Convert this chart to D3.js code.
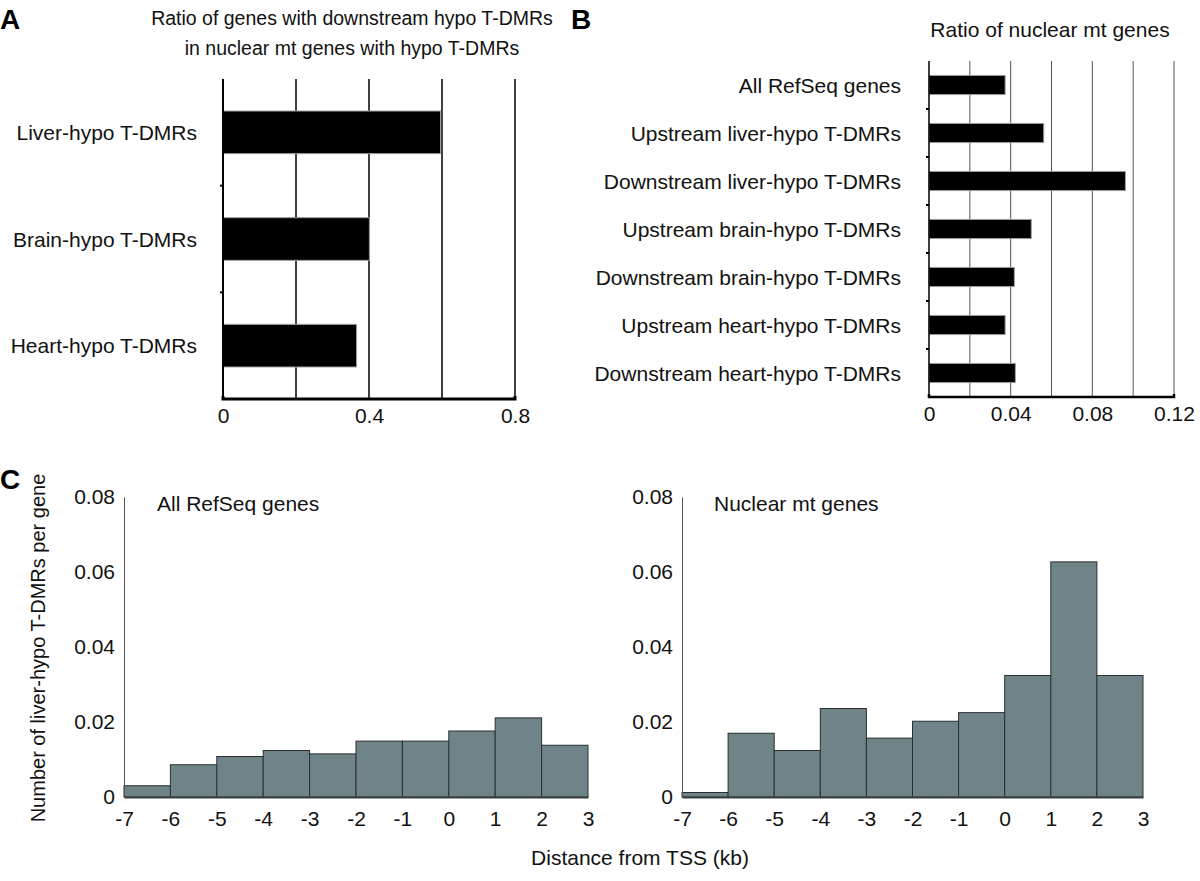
<!DOCTYPE html>
<html>
<head>
<meta charset="utf-8">
<script src="https://cdn.jsdelivr.net/npm/d3@7"></script>
<style>
  body { margin: 0; background: #fff; }
  svg { display: block; font-family: "Liberation Sans", Arial, sans-serif; }
</style>
</head>
<body>
<svg id="chart" width="1200" height="881"></svg>
<script>
// ---------- DATA ----------
const aCategories = ["Liver-hypo T-DMRs", "Brain-hypo T-DMRs", "Heart-hypo T-DMRs"];
const aValues = [0.596, 0.401, 0.366];
const aTicks = [0, 0.4, 0.8];
const aTickLabels = ["0", "0.4", "0.8"];
const aGrid = [0.2, 0.4, 0.6, 0.8];
const aTitle = ["Ratio of genes with downstream hypo T-DMRs", "in nuclear mt genes with hypo T-DMRs"];

const bCategories = ["All RefSeq genes", "Upstream liver-hypo T-DMRs", "Downstream liver-hypo T-DMRs",
  "Upstream brain-hypo T-DMRs", "Downstream brain-hypo T-DMRs", "Upstream heart-hypo T-DMRs",
  "Downstream heart-hypo T-DMRs"];
const bValues = [0.0373, 0.0562, 0.0962, 0.0501, 0.0418, 0.0373, 0.0423];
const bTicks = [0, 0.04, 0.08, 0.12];
const bTickLabels = ["0", "0.04", "0.08", "0.12"];
const bGrid = [0.02, 0.04, 0.06, 0.08, 0.10, 0.12];
const bTitle = "Ratio of nuclear mt genes";

const cBinStarts = [-7, -6, -5, -4, -3, -2, -1, 0, 1, 2];
const cAllRefSeq = [0.0030, 0.0086, 0.0108, 0.0124, 0.0115, 0.0149, 0.0149, 0.0176, 0.0211, 0.0138];
const cNuclearMt = [0.0012, 0.0170, 0.0124, 0.0236, 0.0157, 0.0202, 0.0225, 0.0324, 0.0627, 0.0324];
const cXTicks = [-7, -6, -5, -4, -3, -2, -1, 0, 1, 2, 3];
const cXTickLabels = ["-7", "-6", "-5", "-4", "-3", "-2", "-1", "0", "1", "2", "3"];
const cYTicks = [0, 0.02, 0.04, 0.06, 0.08];
const cYTickLabels = ["0", "0.02", "0.04", "0.06", "0.08"];
const cPanelTitles = ["All RefSeq genes", "Nuclear mt genes"];
const cYTitle = "Number of liver-hypo T-DMRs per gene";
const cXTitle = "Distance from TSS (kb)";

// ---------- DRAW ----------
const svg = d3.select("#chart");
const FONT = 21;
const TXT = "#111";

function panelLetter(t, x, y) {
  svg.append("text").attr("x", x).attr("y", y).text(t)
    .attr("font-size", 28).attr("font-weight", "bold").attr("fill", "#000");
}
panelLetter("A", 0, 29);
panelLetter("B", 571, 29);
panelLetter("C", 0, 489);

function hbarPanel(cfg) {
  const x = d3.scaleLinear().domain(cfg.domain).range([cfg.x0, cfg.x1]);
  const y = d3.scaleBand().domain(cfg.cats).range([cfg.y0, cfg.y1])
    .paddingInner(cfg.pad).paddingOuter(cfg.pad / 2);
  const g = svg.append("g");
  g.selectAll("line.grid").data(cfg.grid).join("line")
    .attr("x1", d => x(d)).attr("x2", d => x(d))
    .attr("y1", cfg.y0).attr("y2", cfg.y1)
    .attr("stroke", cfg.gridColor).attr("stroke-width", cfg.gridWidth);
  g.selectAll("rect.bar").data(cfg.values).join("rect")
    .attr("x", x(0)).attr("y", (d, i) => y(cfg.cats[i]))
    .attr("width", d => x(d) - x(0)).attr("height", y.bandwidth())
    .attr("fill", "#000").attr("stroke", "#9aa3a6").attr("stroke-width", 1);
  const yAxis = d3.axisLeft(y).tickSize(0).tickFormat("");
  const ga = g.append("g").attr("transform", `translate(${x(0)},0)`).call(yAxis);
  ga.select(".domain").attr("stroke", "#000").attr("stroke-width", cfg.axisWidth)
    .attr("d", `M0,${cfg.y0}V${cfg.y1}`);
  const bounds = cfg.cats.slice(1).map(c => y(c) - y.step() * y.paddingInner() / 2);
  g.selectAll("line.btick").data(bounds).join("line")
    .attr("x1", x(0) - 3).attr("x2", x(0)).attr("y1", d => d).attr("y2", d => d)
    .attr("stroke", "#000").attr("stroke-width", 2);
  g.selectAll("text.cat").data(cfg.cats).join("text")
    .attr("x", cfg.labelX).attr("y", d => y(d) + y.bandwidth() / 2)
    .attr("text-anchor", "end").attr("dominant-baseline", "central")
    .attr("font-size", FONT).attr("fill", TXT).text(d => d);
  const xAxis = d3.axisBottom(x).tickValues(cfg.ticks).tickSize(0).tickPadding(9)
    .tickFormat((d, i) => cfg.tickLabels[i]);
  const gx = g.append("g").attr("transform", `translate(0,${cfg.y1})`).call(xAxis);
  gx.select(".domain").attr("stroke", "#000").attr("stroke-width", cfg.bottomWidth)
    .attr("d", `M${cfg.x0},-3V0H${cfg.x1}V-3`);
  gx.selectAll("text").attr("font-size", FONT).attr("fill", TXT)
    .attr("font-family", "Liberation Sans, Arial, sans-serif");
  return { x, y };
}

hbarPanel({
  cats: aCategories, values: aValues, domain: [0, 0.8], x0: 223, x1: 515, y0: 79, y1: 399,
  pad: 0.6, grid: aGrid, gridColor: "#000", gridWidth: 1.5, axisWidth: 2, bottomWidth: 3,
  labelX: 197, ticks: aTicks, tickLabels: aTickLabels
});
svg.append("g").selectAll("text").data(aTitle).join("text")
  .attr("x", 352).attr("y", (d, i) => 25 + i * 30).attr("text-anchor", "middle")
  .attr("font-size", 19.5).attr("fill", TXT).text(d => d);

hbarPanel({
  cats: bCategories, values: bValues, domain: [0, 0.12], x0: 929, x1: 1174, y0: 61, y1: 397,
  pad: 0.6, grid: bGrid, gridColor: "#555", gridWidth: 1, axisWidth: 1.5, bottomWidth: 2.5,
  labelX: 901, ticks: bTicks, tickLabels: bTickLabels
});
svg.append("text").attr("x", 1050).attr("y", 37).attr("text-anchor", "middle")
  .attr("font-size", FONT).attr("fill", TXT).text(bTitle);

function histPanel(values, x0, x1, title, titleX) {
  const x = d3.scaleLinear().domain([-7, 3]).range([x0, x1]);
  const y = d3.scaleLinear().domain([0, 0.08]).range([797, 497]);
  const g = svg.append("g");
  g.selectAll("rect").data(values).join("rect")
    .attr("x", (d, i) => x(cBinStarts[i])).attr("y", d => y(d))
    .attr("width", (d, i) => x(cBinStarts[i] + 1) - x(cBinStarts[i]))
    .attr("height", d => y(0) - y(d))
    .attr("fill", "#6f8489").attr("stroke", "#2a2f31").attr("stroke-width", 1);
  const yAxis = d3.axisLeft(y).tickValues(cYTicks).tickSize(0).tickPadding(9)
    .tickFormat((d, i) => cYTickLabels[i]);
  const gy = g.append("g").attr("transform", `translate(${x0},0)`).call(yAxis);
  gy.select(".domain").attr("stroke", "#555").attr("stroke-width", 1);
  gy.selectAll("text").attr("font-size", FONT).attr("fill", TXT)
    .attr("font-family", "Liberation Sans, Arial, sans-serif");
  const xAxis = d3.axisBottom(x).tickValues(cXTicks).tickSize(0).tickPadding(14)
    .tickFormat((d, i) => cXTickLabels[i]);
  const gx = g.append("g").attr("transform", `translate(0,${y(0)})`).call(xAxis);
  gx.select(".domain").attr("stroke", "#3a4042").attr("stroke-width", 2);
  gx.selectAll("text").attr("font-size", FONT).attr("fill", TXT)
    .attr("font-family", "Liberation Sans, Arial, sans-serif");
  g.append("text").attr("x", titleX).attr("y", 511).attr("font-size", FONT)
    .attr("fill", TXT).text(title);
}
histPanel(cAllRefSeq, 124, 588, cPanelTitles[0], 157);
histPanel(cNuclearMt, 682, 1143, cPanelTitles[1], 714);

svg.append("text").attr("transform", "translate(45,648) rotate(-90)")
  .attr("text-anchor", "middle").attr("font-size", 20).attr("fill", TXT).text(cYTitle);
svg.append("text").attr("x", 640).attr("y", 865).attr("text-anchor", "middle")
  .attr("font-size", FONT).attr("fill", TXT).text(cXTitle);
</script>
</body>
</html>
